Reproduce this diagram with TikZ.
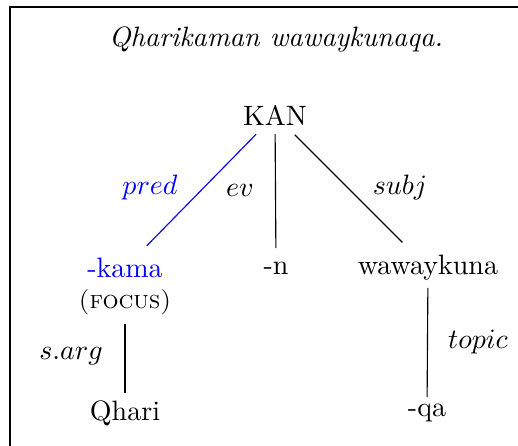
\documentclass[tikz,border=0pt]{standalone}
\begin{document}
\begin{tikzpicture}[x=0.357pt,y=-0.357pt,
  word/.style={inner sep=0pt},
  lbl/.style={inner sep=0pt},
  edge/.style={line width=0.4pt},
  frame/.style={line width=0.6pt}]
\useasboundingbox (0,0) rectangle (518,446);
\draw[frame] (10,446) -- (10,7) -- (520,7);
\node[word] (title) at (276,40) {\textit{Qharikaman wawaykunaqa.}};
\node[word] (kan) at (275,115) {KAN};
\node[word,text=blue] (kama) at (125,268) {-kama};
\node[word] (focus) at (125,302) {\small\textsc{(focus)}};
\node[word] (n) at (276,268) {-n};
\node[word] (wk) at (428,268) {wawaykuna};
\node[word] (qhari) at (125,413) {Qhari};
\node[word] (qa) at (427,413) {-qa};
\draw[edge,blue,shorten <=9.6pt,shorten >=11.1pt] (kan.center) -- (kama.center);
\draw[edge,shorten <=6.8pt,shorten >=7.1pt] (kan.center) -- (n.center);
\draw[edge,shorten <=10pt,shorten >=12.9pt] (kan.center) -- (wk.center);
\draw[edge,shorten <=7.9pt,shorten >=7.1pt] (focus.center) -- (qhari.center);
\draw[edge,shorten <=7.1pt,shorten >=5.7pt] (wk.center) -- (qa.center);
\node[lbl,text=blue] (lpred) at (150,188) {$pred$};
\node[lbl] (lev) at (240,190) {$ev$};
\node[lbl] (lsubj) at (400,188) {$subj$};
\node[lbl] (lsarg) at (71,356) {$s.arg$};
\node[lbl] (ltopic) at (478,342) {$topic$};
\end{tikzpicture}
\end{document}
